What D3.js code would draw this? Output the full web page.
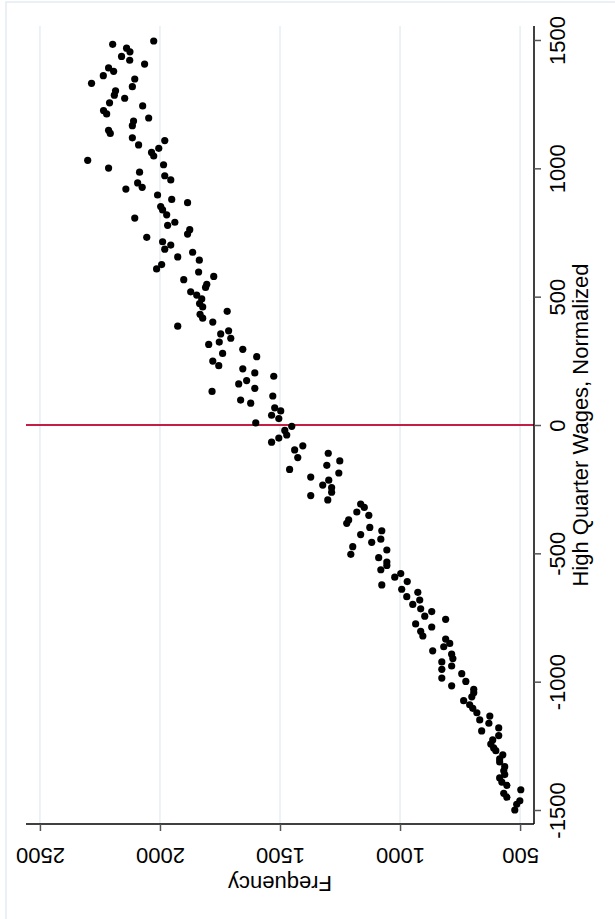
<!DOCTYPE html>
<meta charset="utf-8">
<script src="https://d3js.org/d3.v7.min.js"></script>
<style>
  body { margin: 0; background: #fff; }
  text { font-family: "Liberation Sans", Arial, sans-serif; fill: #000; }
</style>
<div id="chart"></div>
<script>
// binned scatter, chart turned a quarter turn (wages run up the right side)
const wage = [1496,1483,1468,1454,1436,1421,1406,1391,1378,1361,1348,1331,1318,1302,1285,1273,1255,1243,1225,1212,1196,1184,1166,1148,1136,1119,1108,1091,1078,1062,1048,1031,1014,1001,985,971,955,943,926,919,
  896,879,866,851,838,819,806,790,778,761,744,731,714,701,685,673,655,642,625,608,596,579,566,548,536,519,506,491,473,460,443,431,416,401,385,367,355,338,323,314,
  295,279,266,249,231,219,203,190,173,160,143,131,113,97,85,67,55,38,25,8,-5,-21,-39,-51,-67,-81,-97,-110,-127,-140,-157,-173,-187,-203,-215,-234,-244,-262,-275,-292,-308,-321,
  -339,-352,-370,-383,-399,-412,-427,-445,-457,-474,-487,-504,-517,-534,-547,-564,-579,-593,-610,-623,-640,-652,-669,-682,-699,-716,-727,-745,-757,-775,-787,-804,-822,-834,-851,-864,-880,-893,-910,-923,-939,-952,
  -969,-986,-999,-1016,-1030,-1043,-1059,-1074,-1090,-1104,-1121,-1134,-1149,-1162,-1180,-1192,-1210,-1227,-1243,-1258,-1269,-1285,-1301,-1313,-1331,-1347,-1362,-1375,-1391,-1404,-1421,-1435,-1450,-1464,-1478,-1500];

const freq = [2026,2197,2139,2125,2160,2126,2064,2214,2193,2236,2105,2285,2115,2185,2190,2147,2210,2072,2235,2222,2047,2110,2115,2214,2207,2115,1980,2089,2005,2035,2026,2301,1985,2214,2085,1980,1955,2093,2074,2142,
  2010,1951,1885,1997,1989,1972,2105,1938,1968,1876,1885,2055,1989,1955,1980,1864,1926,1836,1993,2014,1839,1776,1901,1805,1810,1872,1847,1826,1835,1822,1720,1833,1822,1780,1926,1714,1747,1705,1753,1797,
  1655,1739,1597,1780,1755,1655,1605,1526,1639,1672,1605,1783,1530,1664,1622,1522,1497,1535,1505,1601,1451,1480,1472,1505,1535,1405,1439,1299,1426,1251,1305,1460,1255,1372,1297,1322,1285,1285,1372,1301,1164,1149,
  1180,1130,1214,1222,1126,1076,1164,1080,1118,1197,1055,1205,1089,1055,1055,1080,997,1022,970,1076,993,926,972,918,947,914,868,897,810,935,868,914,905,810,793,818,864,785,780,826,785,826,
  743,826,726,785,693,693,701,735,710,697,680,626,668,630,589,660,589,614,622,610,601,572,585,585,564,568,564,585,576,555,497,568,555,501,514,522];

const wageTicks = [-1500, -1000, -500, 0, 500, 1000, 1500];
const freqTicks = [500, 1000, 1500, 2000, 2500];
const cutoff = 0;

const W = 615, H = 919;
const plot = {left: 26, right: 534, top: 26, bottom: 824};
const fontSize = 22;
const plain = d => String(d);   // "-1500", no thousands comma, ascii minus

const svg = d3.select("#chart").append("svg")
    .attr("width", W)
    .attr("height", H);

// faint outer graph-region border
svg.append("rect")
    .attr("x", 6).attr("y", 2)
    .attr("width", 700).attr("height", 1000)
    .attr("fill", "none")
    .attr("stroke", "#e4ecf0")
    .attr("stroke-width", 1.5);

// frequency runs right-to-left along the bottom, wages bottom-to-top on the right
const x = d3.scaleLinear().domain([442, 2558]).range([plot.right, plot.left]);
const y = d3.scaleLinear().domain([-1554.5, 1554.5]).range([plot.bottom, plot.top]);

// grid lines (frequency)
svg.append("g")
  .selectAll("line")
  .data(freqTicks)
  .join("line")
    .attr("x1", d => x(d)).attr("x2", d => x(d))
    .attr("y1", plot.top).attr("y2", plot.bottom)
    .attr("stroke", "#e6eef2")
    .attr("stroke-width", 1.5);

// cutoff line
svg.append("line")
    .attr("x1", plot.left).attr("x2", plot.right)
    .attr("y1", y(cutoff)).attr("y2", y(cutoff))
    .attr("stroke", "#c41e45")
    .attr("stroke-width", 2);

// points
svg.append("g")
  .selectAll("circle")
  .data(d3.zip(wage, freq))
  .join("circle")
    .attr("cx", d => x(d[1]))
    .attr("cy", d => y(d[0]))
    .attr("r", 3.6)
    .attr("fill", "#000");

// right axis: wages
const yAxis = svg.append("g")
    .attr("transform", `translate(${plot.right},0)`)
    .call(d3.axisRight(y).tickValues(wageTicks).tickFormat(plain).tickSize(7).tickSizeOuter(0));
yAxis.select(".domain").attr("stroke", "#000").attr("stroke-width", 1.5)
    .attr("d", `M0,${plot.top}V${plot.bottom}`);
yAxis.selectAll(".tick line").attr("stroke", "#555").attr("stroke-width", 1.5);
yAxis.selectAll(".tick text")
    .attr("x", null).attr("dy", null)
    .attr("transform", "translate(31,0) rotate(-90)")
    .attr("text-anchor", "middle")
    .style("font-size", fontSize + "px");

// bottom axis: frequency (upside down)
const xAxis = svg.append("g")
    .attr("transform", `translate(0,${plot.bottom})`)
    .call(d3.axisBottom(x).tickValues(freqTicks).tickFormat(plain).tickSize(7).tickSizeOuter(0));
xAxis.select(".domain").attr("stroke", "#000").attr("stroke-width", 1.5)
    .attr("d", `M${plot.left},0H${plot.right}`);
xAxis.selectAll(".tick line").attr("stroke", "#555").attr("stroke-width", 1.5);
xAxis.selectAll(".tick text")
    .attr("y", null).attr("dy", null)
    .attr("transform", "translate(0,24) rotate(180)")
    .attr("text-anchor", "middle")
    .style("font-size", fontSize + "px");

// axis titles
svg.append("text")
    .attr("transform", `translate(588,${(plot.top + plot.bottom) / 2}) rotate(-90)`)
    .attr("text-anchor", "middle")
    .style("font-size", fontSize + "px")
    .text("High Quarter Wages, Normalized");

svg.append("text")
    .attr("transform", `translate(${(plot.left + plot.right) / 2},876) rotate(180)`)
    .attr("text-anchor", "middle")
    .style("font-size", fontSize + "px")
    .text("Frequency");
</script>
